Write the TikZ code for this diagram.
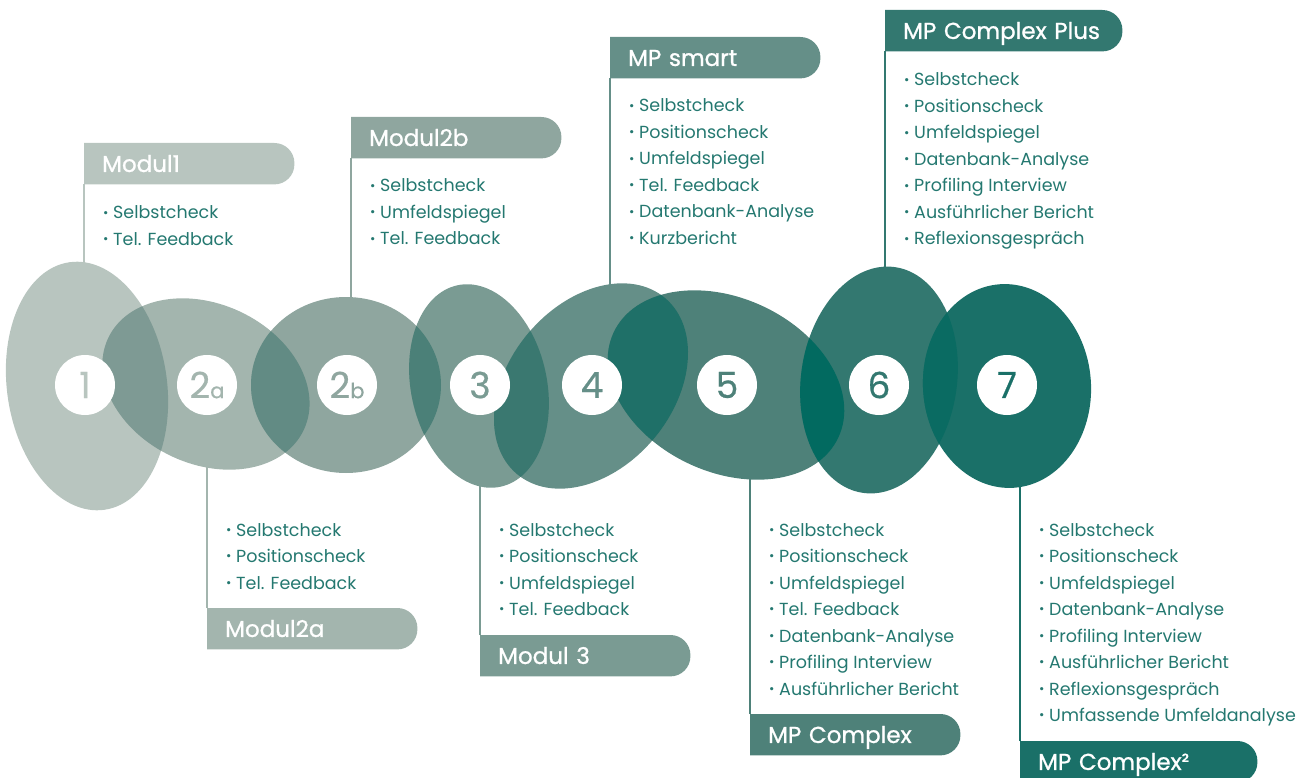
\documentclass[tikz,border=0pt]{standalone}
\usepackage{fontspec}
\setmainfont{Poppins}
\usetikzlibrary{backgrounds}
\definecolor{c1}{HTML}{B8C5BF}
\definecolor{c2}{HTML}{A3B5AE}
\definecolor{c3}{HTML}{8FA69F}
\definecolor{c4}{HTML}{7A9B93}
\definecolor{c5}{HTML}{658F88}
\definecolor{c6}{HTML}{4E8179}
\definecolor{c7}{HTML}{337870}
\definecolor{c8}{HTML}{1A7068}
\definecolor{o12}{HTML}{7E9A94}
\definecolor{o23}{HTML}{628B84}
\definecolor{o34}{HTML}{4B8078}
\definecolor{o45}{HTML}{3A7870}
\definecolor{o56}{HTML}{1F7068}
\definecolor{o67}{HTML}{026A60}
\definecolor{o78}{HTML}{0A6B62}
\definecolor{itemc}{HTML}{247870}
\newcommand\blob[6]{\fill[#6,rotate around={#5:(#1,#2)}] (#1,#2) ellipse [x radius=#3, y radius=#4];}
\newcommand\blobclip[5]{\clip[rotate around={#5:(#1,#2)}] (#1,#2) ellipse [x radius=#3, y radius=#4];}
\def\Ea{{87}{386}{80}{125}{8}}
\def\Eb{{206}{384}{108}{80}{-25}}
\def\Ec{{346}{385}{95}{88}{0}}
\def\Ed{{479}{386}{68}{103}{12}}
\def\Ee{{591}{386}{115}{82}{50}}
\def\Ef{{726}{385}{124}{87}{-25}}
\def\Eg{{879}{380}{78}{114}{-8}}
\def\Eh{{1007}{386}{84}{102}{4}}
\newcommand\ovl[3]{\begin{scope}\expandafter\blobclip#1\expandafter\blob#2{#3}\end{scope}}
\newcommand\bul{\makebox[10pt][l]{\raisebox{1.8pt}{\fontsize{13}{13}\selectfont •}}}
\begin{document}
\begin{tikzpicture}[x=1pt,y=-1pt,
  item/.style={anchor=base west, inner sep=0pt, text=itemc, font=\fontsize{17.5}{20}\selectfont},
  tabn/.style={anchor=north west, minimum height=41pt, inner xsep=18pt, inner ysep=0pt,
     align=left, text height=16.5pt, text depth=0pt, text=white,
     font=\fontsize{23}{26}\selectfont\addfontfeatures{FakeBold=1}},
  tabs/.style={tabn, text width=174pt},
  tabw/.style={tabn, text width=201pt},
  conn/.style={line width=2pt},
  num/.style={circle, fill=white, minimum size=60pt, inner sep=0pt,
     font=\fontsize{36}{36}\selectfont\addfontfeatures{FakeBold=0.6}}]
\useasboundingbox (0,0) rectangle (1315,778);

% tabs
\node[tabs] (T1) at (84,143) {Modul1};
\node[tabs] (T2) at (207,608) {Modul2a};
\node[tabs] (T3) at (351,117) {Modul2b};
\node[tabs] (T4) at (480,635) {Modul 3};
\node[tabs] (T5) at (610,37) {MP smart};
\node[tabs] (T6) at (750,714) {MP Complex};
\node[tabw] (T7) at (885,10) {MP Complex Plus};
\node[tabw] (T8) at (1020,741) {MP Complex²};
\begin{pgfonlayer}{background}
\foreach \t/\c in {T1/c1,T2/c2,T3/c3,T4/c4,T5/c5,T6/c6,T7/c7,T8/c8}
  \fill[\c] (\t.north west) [rounded corners=20pt] -- (\t.north east) -- (\t.south east) [sharp corners] -- (\t.south west) -- cycle;
\end{pgfonlayer}

% centres of the number circles
\path (85,385) coordinate (P1) (207,385) coordinate (P2) (347,385) coordinate (P3)
      (480,385) coordinate (P4) (592,385) coordinate (P5) (727,385) coordinate (P6)
      (879,385) coordinate (P7) (1007,385) coordinate (P8);

% connectors
\draw[conn,c1] (T1.south west) -- (T1.south west |- P1);
\draw[conn,c2] (T2.north west) -- (T2.north west |- P2);
\draw[conn,c3] (T3.south west) -- (T3.south west |- P3);
\draw[conn,c4] (T4.north west) -- (T4.north west |- P4);
\draw[conn,c5] (T5.south west) -- (T5.south west |- P5);
\draw[conn,c6] (T6.north west) -- (T6.north west |- P6);
\draw[conn,c7] (T7.south west) -- (T7.south west |- P7);
\draw[conn,c8] (T8.north west) -- (T8.north west |- P8);

% blobs
\expandafter\blob\Ea{c1}
\expandafter\blob\Eb{c2}
\expandafter\blob\Ec{c3}
\expandafter\blob\Ed{c4}
\expandafter\blob\Ee{c5}
\expandafter\blob\Ef{c6}
\expandafter\blob\Eg{c7}
\expandafter\blob\Eh{c8}
\ovl{\Ea}{\Eb}{o12}
\ovl{\Eb}{\Ec}{o23}
\ovl{\Ec}{\Ed}{o34}
\ovl{\Ed}{\Ee}{o45}
\ovl{\Ee}{\Ef}{o56}
\ovl{\Ef}{\Eg}{o67}
\ovl{\Eg}{\Eh}{o78}

\node[num,text=c1] (N1) at (P1) {1};
\node[num,text=c2] (N2) at (P2) {2{\fontsize{21}{21}\selectfont a}};
\node[num,text=c3] (N3) at (P3) {2{\fontsize{21}{21}\selectfont b}};
\node[num,text=c4] (N4) at (P4) {3};
\node[num,text=c5] (N5) at (P5) {4};
\node[num,text=c6] (N6) at (P6) {5};
\node[num,text=c7] (N7) at (P7) {6};
\node[num,text=c8] (N8) at (P8) {7};

% item lists
\foreach \t [count=\i from 0] in {Selbstcheck,Tel. Feedback}
  \node[item] (A\i) at (103,219+26.5*\i) {\bul\t};
\foreach \t [count=\i from 0] in {Selbstcheck,Positionscheck,Tel. Feedback}
  \node[item] (B\i) at (226,536+26.5*\i) {\bul\t};
\foreach \t [count=\i from 0] in {Selbstcheck,Umfeldspiegel,Tel. Feedback}
  \node[item] (C\i) at (370,192+26.5*\i) {\bul\t};
\foreach \t [count=\i from 0] in {Selbstcheck,Positionscheck,Umfeldspiegel,Tel. Feedback}
  \node[item] (D\i) at (499,536+26.5*\i) {\bul\t};
\foreach \t [count=\i from 0] in {Selbstcheck,Positionscheck,Umfeldspiegel,Tel. Feedback,Datenbank-Analyse,Kurzbericht}
  \node[item] (E\i) at (629,112+26.5*\i) {\bul\t};
\foreach \t [count=\i from 0] in {Selbstcheck,Positionscheck,Umfeldspiegel,Tel. Feedback,Datenbank-Analyse,Profiling Interview,Ausführlicher Bericht}
  \node[item] (F\i) at (769,536+26.5*\i) {\bul\t};
\foreach \t [count=\i from 0] in {Selbstcheck,Positionscheck,Umfeldspiegel,Datenbank-Analyse,Profiling Interview,Ausführlicher Bericht,Reflexionsgespräch}
  \node[item] (G\i) at (904,86+26.5*\i) {\bul\t};
\foreach \t [count=\i from 0] in {Selbstcheck,Positionscheck,Umfeldspiegel,Datenbank-Analyse,Profiling Interview,Ausführlicher Bericht,Reflexionsgespräch,Umfassende Umfeldanalyse}
  \node[item] (H\i) at (1039,536+26.5*\i) {\bul\t};
\end{tikzpicture}
\end{document}
